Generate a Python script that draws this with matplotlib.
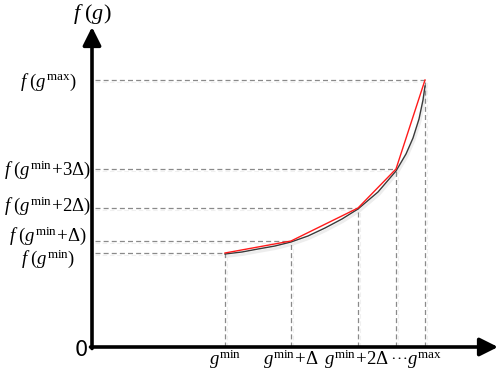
import matplotlib
matplotlib.use("Agg")
import matplotlib.pyplot as plt

plt.rcParams["mathtext.fontset"] = "custom"
plt.rcParams["mathtext.rm"] = "Liberation Serif"
plt.rcParams["mathtext.it"] = "Liberation Serif:italic"
plt.rcParams["mathtext.bf"] = "Liberation Serif:bold"

# sample points (g, f(g))
g_pts = [133, 199, 266, 304, 333]
f_pts = [94, 106, 139, 178, 267]
f_labels = [r"$f\ (g^{\mathrm{min}})$", r"$f\ (g^{\mathrm{min}}\!+\!\Delta)$",
            r"$f\ (g^{\mathrm{min}}\!+\!2\Delta)$", r"$f\ (g^{\mathrm{min}}\!+\!3\Delta)$",
            r"$f\ (g^{\mathrm{max}})$"]
g_labels = [r"$g^{\mathrm{min}}$", r"$g^{\mathrm{min}}\!+\!\Delta$",
            r"$g^{\mathrm{min}}\!+\!2\Delta$", r"$g^{\mathrm{max}}$"]
g_label_pos = [133, 199, 265, 332]
f_label_off = [-6, 5, 2, -1, -2]

# true (smooth) curve
curve_g = [133, 150, 166, 183, 199, 216, 233, 250, 266, 286, 304, 314, 321, 327, 331, 333]
curve_f = [93, 95, 98, 101, 105, 111, 119, 128, 138, 155, 176, 193, 209, 228, 247, 261]

fig = plt.figure(figsize=(4.98, 3.74), dpi=100)
ax = fig.add_axes([0, 0, 1, 1])
ax.set_xlim(-92, 406)
ax.set_ylim(-27, 347)
ax.axis("off")

dash = dict(color="#8a8a8a", lw=0.9, ls=(0, (4, 2.5)))
for g, f in zip(g_pts, f_pts):
    ax.plot([3, g], [f, f], **dash)
    ax.plot([g, g], [0, f], **dash)
    ax.plot([3, g], [f - 2, f - 2], color="#f0f0f0", lw=0.8, ls=(0, (4, 2.5)), zorder=0)
    ax.plot([g + 2, g + 2], [0, f - 2], color="#f0f0f0", lw=0.8, ls=(0, (4, 2.5)), zorder=0)

# shadow, curve and chords
ax.plot([g + 1 for g in curve_g], [f - 2.5 for f in curve_f], color="#ededed", lw=2, zorder=1)
ax.plot(curve_g, curve_f, color="#3a3a3a", lw=1.0, zorder=2)
ax.plot(g_pts, f_pts, color="#ff1a1a", lw=1.0, zorder=3)

# axes with arrows
ax.annotate("", xy=(406, 0), xytext=(-1.5, 0),
            arrowprops=dict(arrowstyle="-|>,head_length=1.1,head_width=0.55",
                            lw=2.6, color="black", shrinkA=0, shrinkB=0))
ax.annotate("", xy=(0, 320), xytext=(0, -1.5),
            arrowprops=dict(arrowstyle="-|>,head_length=1.1,head_width=0.55",
                            lw=2.6, color="black", shrinkA=0, shrinkB=0))

for lab, f, off in zip(f_labels, f_pts, f_label_off):
    ax.text(-44, f + off, lab, ha="center", va="center", fontsize=13.5)
for lab, g in zip(g_labels, g_label_pos):
    ax.text(g, -18, lab, ha="center", va="baseline", fontsize=13.5)
ax.text(308, -11, "• • •", ha="center", va="center", fontsize=4.5)
ax.text(0, 333, r"$f\ (g)$", ha="center", va="center", fontsize=16)
ax.text(-11, -3, "0", ha="center", va="center", fontsize=15, family="DejaVu Sans")

fig.savefig("out.png", dpi=100)
